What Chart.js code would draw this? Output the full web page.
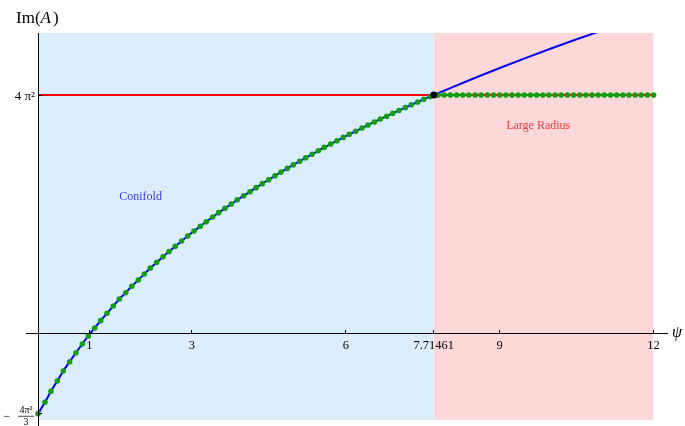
<!DOCTYPE html>
<html><head><meta charset="utf-8">
<script src="https://cdn.jsdelivr.net/npm/chart.js@4"></script>
<style>html,body{margin:0;padding:0;background:#fff;overflow:hidden}</style>
</head><body>
<canvas id="c" width="685" height="426" style="display:block;width:685px;height:426px"></canvas>
<script>
// ---- data ----
const FOUR_PI_SQ = 39.478;          // 4π²
const MINUS_FOUR_PI_SQ_3 = -13.159; // -4π²/3
const transitionPsi = 7.71461;

// sampled points along the curve (green dots, blue curve) for 0 <= psi < 7.71461
const curvePsi = [0, 0.136, 0.253, 0.376, 0.493, 0.618, 0.74, 0.863, 0.98, 1.105, 1.222, 1.345, 1.468, 1.585, 1.71,
  1.827, 1.955, 2.072, 2.19, 2.314, 2.437, 2.554, 2.676, 2.8, 2.918, 3.041, 3.164, 3.281, 3.405, 3.522, 3.645,
  3.768, 3.885, 4.01, 4.133, 4.25, 4.372, 4.497, 4.62, 4.737, 4.86, 4.977, 5.101, 5.218, 5.341, 5.464, 5.581,
  5.706, 5.829, 5.951, 6.068, 6.193, 6.316, 6.433, 6.556, 6.673, 6.797, 6.914, 7.037, 7.16, 7.277, 7.402, 7.519, 7.64];
const curveIm = [-13.16, -11.28, -9.46, -7.76, -6.11, -4.58, -3.09, -1.65, -0.33, 0.99, 2.2, 3.42, 4.63, 5.78, 6.82,
  7.88, 8.92, 9.91, 10.9, 11.84, 12.75, 13.62, 14.49, 15.36, 16.19, 17.01, 17.79, 18.55, 19.31, 20.04, 20.76,
  21.47, 22.16, 22.84, 23.5, 24.17, 24.83, 25.49, 26.12, 26.74, 27.35, 27.94, 28.53, 29.11, 29.68, 30.27, 30.83,
  31.38, 31.93, 32.47, 32.99, 33.5, 34.02, 34.52, 35.02, 35.5, 35.97, 36.45, 36.93, 37.39, 37.86, 38.32, 38.77, 39.2];

// blue curve continued past the transition point
const extPsi = [7.71461, 8, 8.5, 9, 9.5, 10, 10.5, 11, 11.5];
const extIm = [39.478, 40.5, 42.24, 43.93, 45.57, 47.15, 48.68, 50.15, 51.57];

// green dots along the 4π² line in the large-radius region
const flatPsi = [7.8, 7.92, 8.04, 8.16, 8.28, 8.4, 8.52, 8.64, 8.76, 8.88, 9.0, 9.12, 9.24, 9.36, 9.48, 9.6, 9.72,
  9.84, 9.96, 10.08, 10.2, 10.32, 10.44, 10.56, 10.68, 10.8, 10.92, 11.04, 11.16, 11.28, 11.4, 11.52, 11.64,
  11.76, 11.88, 12.0];

const regionBounds = [0, 7.71461, 12];
const regionNames = ['Conifold', 'Large Radius'];
const regionLabelPsi = [2.0, 9.75];
const regionLabelIm = [22.6, 34.4];

const xTickValues = [1, 3, 6, 7.71461, 9, 12];
const xTickLabels = ['1', '3', '6', '7.71461', '9', '12'];
const yTickValues = [FOUR_PI_SQ, MINUS_FOUR_PI_SQ_3];
const yTickLabels = ['4 π²', '−4π²/3'];

// ---- view / style ----
const X_MIN = -0.234, X_MAX = 12.261;
const Y_MIN = -15.2, Y_MAX = 49.72;
const BG_BOTTOM = -14.2;
const SERIF = '"Liberation Serif", "Times New Roman", serif';
const bgColors = ['#dcedfd', '#ffd8d9'];
const regionTextColors = ['#3a3aff', '#f03a3a'];

const toPts = (xs, ys) => xs.map((v, i) => ({x: v, y: ys[i]}));

const datasets = [];
regionBounds.slice(0, -1).forEach((x0, i) => {
  datasets.push({
    data: [{x: x0, y: Y_MAX}, {x: regionBounds[i + 1], y: Y_MAX}],
    fill: {value: BG_BOTTOM}, backgroundColor: bgColors[i],
    borderColor: 'rgba(0,0,0,0)', borderWidth: 0, pointRadius: 0, order: 10
  });
});
datasets.push({
  data: [{x: regionBounds[0], y: FOUR_PI_SQ}, {x: regionBounds[2], y: FOUR_PI_SQ}],
  borderColor: '#ff0000', borderWidth: 2, pointRadius: 0, fill: false, order: 5
});
datasets.push({
  data: toPts(curvePsi, curveIm).concat(toPts(extPsi, extIm)),
  borderColor: '#0000ff', borderWidth: 2, pointRadius: 0, fill: false,
  cubicInterpolationMode: 'monotone', order: 4
});
datasets.push({
  data: toPts(curvePsi, curveIm).concat(flatPsi.map(v => ({x: v, y: FOUR_PI_SQ}))),
  showLine: false, pointRadius: 2.8, pointBackgroundColor: '#12a012', pointBorderWidth: 0,
  borderColor: 'rgba(0,0,0,0)', fill: false, order: 3
});
datasets.push({
  data: [{x: transitionPsi, y: FOUR_PI_SQ}],
  showLine: false, pointRadius: 3.6, pointBackgroundColor: '#000', pointBorderWidth: 0, fill: false, order: 1
});

const annotate = {
  id: 'annotate',
  afterDatasetsDraw(chart) {
    const {ctx, scales: {x, y}} = chart;
    ctx.save();
    ctx.font = '12px ' + SERIF;
    ctx.textAlign = 'center'; ctx.textBaseline = 'middle';
    regionNames.forEach((t, i) => {
      ctx.fillStyle = regionTextColors[i];
      ctx.fillText(t, x.getPixelForValue(regionLabelPsi[i]), y.getPixelForValue(regionLabelIm[i]));
    });
    ctx.restore();
  },
  afterDraw(chart) {
    const {ctx, scales: {x, y}} = chart;
    ctx.save();
    ctx.fillStyle = '#000';
    ctx.textAlign = 'left'; ctx.textBaseline = 'alphabetic';
    // y-axis title Im(A)
    let px = 16; const by = 22.5;
    ctx.font = '17px ' + SERIF;
    ctx.fillText('Im(', px, by); px += ctx.measureText('Im(').width;
    ctx.font = 'italic 17px ' + SERIF;
    ctx.fillText('A', px, by); px += ctx.measureText('A').width + 2;
    ctx.font = '17px ' + SERIF;
    ctx.fillText(')', px, by);
    // x-axis title ψ
    const ay = y.getPixelForValue(0);
    ctx.font = 'italic 16px ' + SERIF;
    ctx.fillText('ψ', 672, ay + 3.5);
    // y tick labels
    const ax = x.getPixelForValue(0);
    ctx.font = '13px ' + SERIF;
    ctx.textAlign = 'right'; ctx.textBaseline = 'alphabetic';
    ctx.fillText(yTickLabels[0], ax - 3, y.getPixelForValue(yTickValues[0]) + 4.5);
    const lab = yTickLabels[1];
    const sign = lab[0];
    const [num, den] = lab.slice(1).split('/');
    const p1 = y.getPixelForValue(yTickValues[1]);
    const cx = 26;
    ctx.textAlign = 'center';
    ctx.font = '12px ' + SERIF;
    ctx.fillText(sign, 7, p1 + 6.5);
    ctx.font = '10px ' + SERIF;
    ctx.fillText(num, cx, p1 - 0.5);
    ctx.fillText(den, cx, p1 + 11.3);
    ctx.fillRect(18, p1 + 2.2, 16, 0.7);
    ctx.restore();
  }
};

new Chart(document.getElementById('c'), {
  type: 'line',
  data: {datasets},
  options: {
    responsive: false, animation: false, events: [],
    layout: {autoPadding: false, padding: {left: 26, right: 18, top: 33, bottom: 0}},
    plugins: {legend: {display: false}, tooltip: {enabled: false}, title: {display: false}},
    scales: {
      x: {
        type: 'linear', min: X_MIN, max: X_MAX, position: {y: 0},
        afterBuildTicks: s => { s.ticks = xTickValues.map(v => ({value: v})); },
        afterFit: s => { s.height = 0; },
        grid: {display: true, drawOnChartArea: false, drawTicks: true, tickLength: -4, color: '#000', tickColor: '#000', lineWidth: 1, z: 1},
        border: {display: true, color: '#000', width: 1, z: 1},
        ticks: {callback: (v, i) => xTickLabels[i], font: {family: SERIF, size: 12.5}, color: '#000',
          padding: 8, autoSkip: false, maxRotation: 0, minRotation: 0, z: 1}
      },
      y: {
        type: 'linear', min: Y_MIN, max: Y_MAX, position: {x: 0},
        afterBuildTicks: s => { s.ticks = yTickValues.map(v => ({value: v})); },
        afterFit: s => { s.width = 0; },
        grid: {display: true, drawOnChartArea: false, drawTicks: true, tickLength: -4, color: '#000', tickColor: '#000', lineWidth: 1, z: 1},
        border: {display: true, color: '#000', width: 1, z: 1},
        ticks: {display: false, z: 1}
      }
    }
  },
  plugins: [annotate]
});
</script>
</body></html>
